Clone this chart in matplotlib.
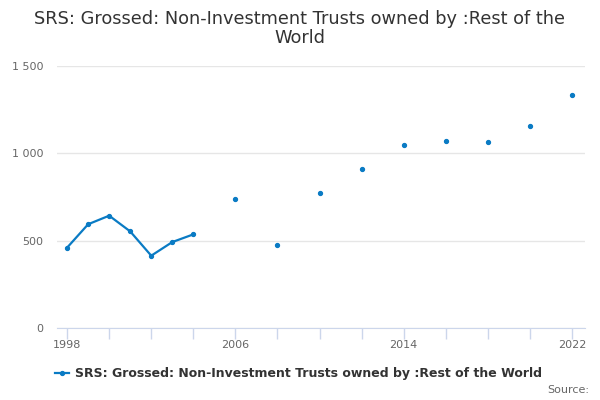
import numpy as np
import matplotlib.pyplot as plt
from matplotlib.ticker import FuncFormatter

# SRS grossed values, odd years after 2004 missing
years = np.arange(1998, 2023)
values = [460, 594, 643, 553, 414, 492, 536, np.nan, 738, np.nan, 477, np.nan,
          774, np.nan, 912, np.nan, 1047, np.nan, 1068, np.nan, 1064, np.nan,
          1156, np.nan, 1332]
series_name = "SRS: Grossed: Non-Investment Trusts owned by :Rest of the World"
xtick_years = [1998, 2006, 2014, 2022]
yticks = [0, 500, 1000, 1500]

line_col = '#0a7bc4'
axis_col = '#ccd6eb'

fig = plt.figure(figsize=(6, 4), dpi=100)
ax = fig.add_axes([0.095, 0.18, 0.88, 0.655])

ax.plot(years, values, color=line_col, lw=1.6, marker='o', ms=2.8,
        label=series_name)

ax.set_xlim(1997.52, 2022.62)
ax.set_ylim(0, 1500)
ax.set_yticks(yticks)
ax.yaxis.set_major_formatter(FuncFormatter(lambda v, p: f"{int(v):,}".replace(",", " ")))
ax.set_xticks(np.arange(1998, 2023, 2))
ax.set_xticklabels([str(y) if y in xtick_years else '' for y in np.arange(1998, 2023, 2)])

ax.grid(axis='y', color='#e6e6e6', lw=1)
ax.set_axisbelow(True)
for s in ['top', 'right', 'left']:
    ax.spines[s].set_visible(False)
ax.spines['bottom'].set_color(axis_col)
ax.tick_params(axis='x', colors=axis_col, length=8, width=1, labelcolor='#666666', labelsize=8, pad=1)
ax.tick_params(axis='y', length=0, labelcolor='#666666', labelsize=8, pad=10)

fig.suptitle("SRS: Grossed: Non-Investment Trusts owned by :Rest of the\nWorld",
             x=0.5, y=0.975, fontsize=12.8, color='#333333', linespacing=1.1)

leg = fig.legend(loc='lower left', bbox_to_anchor=(0.073, 0.022), frameon=False,
                 fontsize=9, handlelength=1.1, handletextpad=0.5)
for t in leg.get_texts():
    t.set_color('#333333')
    t.set_fontweight('bold')

fig.text(0.982, 0.012, "Source:", ha='right', va='bottom', fontsize=8, color='#666666')

fig.savefig('out.png', dpi=100)
